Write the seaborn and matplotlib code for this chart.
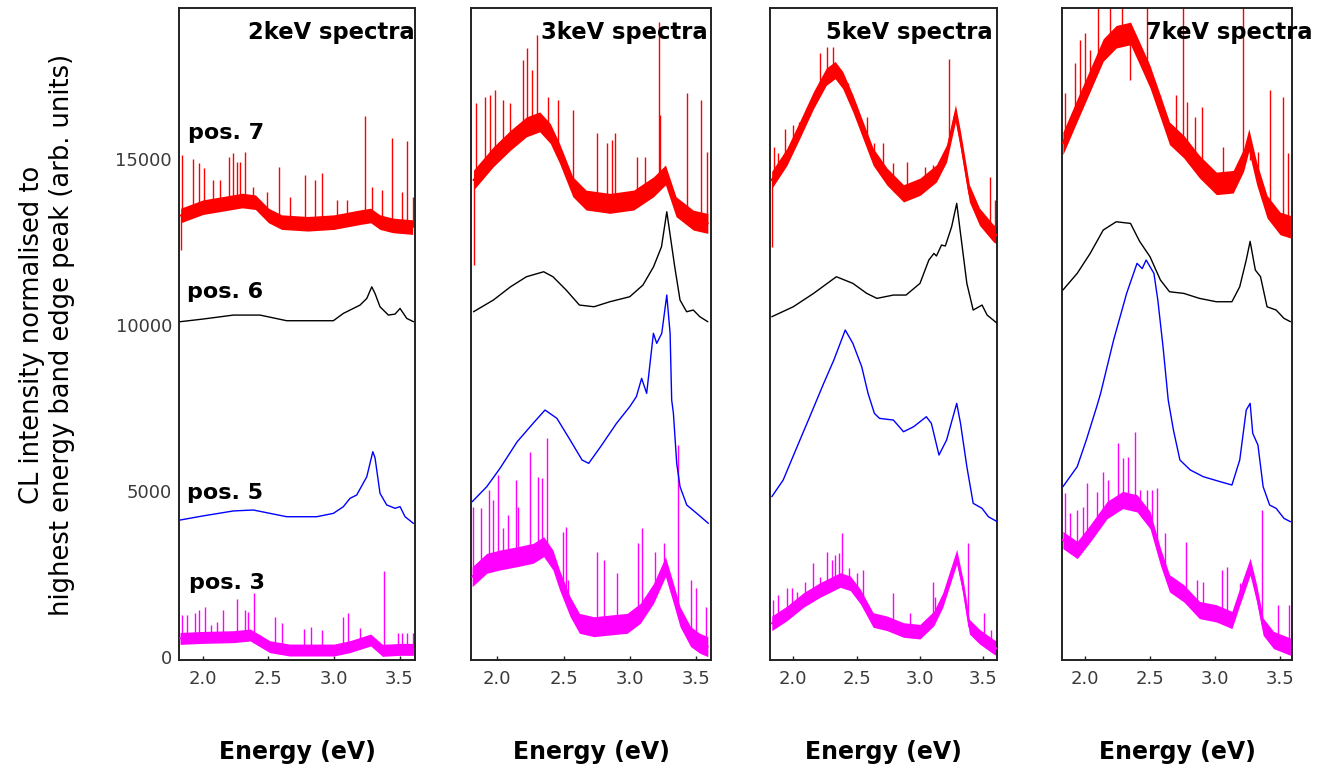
import numpy as np
import pandas as pd
import matplotlib
matplotlib.use("Agg")
import matplotlib.pyplot as plt
import seaborn as sns

# ---------------- data ----------------
panels = ["2keV spectra", "3keV spectra", "5keV spectra", "7keV spectra"]
positions = ["pos. 7", "pos. 6", "pos. 5", "pos. 3"]
x_ticks = [2.0, 2.5, 3.0, 3.5]
y_ticks = [0, 5000, 10000, 15000]

# ---- 2 keV ----
k2_p7_E = [1.83, 2.0, 2.3, 2.4, 2.5, 2.6, 2.8, 3.0, 3.2, 3.28, 3.35, 3.45, 3.6]
k2_p7_I = [13300, 13550, 13750, 13700, 13300, 13100, 13050, 13100, 13250, 13300, 13100, 13000, 12950]
k2_p7_spkE = [1.838, 1.921, 1.972, 2.008, 2.079, 2.13, 2.196, 2.232, 2.262, 2.283, 2.321, 2.384, 2.486, 2.583,
              2.664, 2.779, 2.855, 2.906, 3.02, 3.097, 3.237, 3.288, 3.364, 3.44, 3.517, 3.56, 3.6, 1.832]
k2_p7_spkI = [15120, 14990, 14870, 14720, 14370, 14370, 15070, 15170, 14920, 14920, 15220, 14165, 14015, 14770,
              13865, 14520, 14370, 14570, 13765, 13765, 16295, 14165, 14065, 15620, 14015, 15530, 13865, 12260]
k2_p6_E = [1.825, 2.0, 2.232, 2.435, 2.639, 2.995, 3.071, 3.198, 3.25, 3.288, 3.313, 3.351, 3.415, 3.466, 3.504, 3.555, 3.606]
k2_p6_I = [10100, 10180, 10300, 10300, 10130, 10130, 10350, 10600, 10800, 11150, 10950, 10550, 10300, 10330, 10500, 10200, 10100]
k2_p5_E = [1.825, 2.0, 2.232, 2.384, 2.639, 2.868, 2.995, 3.071, 3.122, 3.173, 3.25, 3.296, 3.313, 3.351, 3.402, 3.466, 3.504, 3.542, 3.606]
k2_p5_I = [4126, 4250, 4400, 4428, 4226, 4226, 4327, 4527, 4780, 4880, 5430, 6184, 6000, 4930, 4580, 4480, 4530, 4226, 4025]
k2_p3_E = [1.825, 2.0, 2.232, 2.36, 2.51, 2.66, 2.8, 3.0, 3.12, 3.28, 3.37, 3.5, 3.606]
k2_p3_I = [560, 590, 612, 663, 311, 210, 210, 210, 311, 512, 200, 230, 230]
k2_p3_spkE = [1.838, 1.876, 1.94, 1.973, 2.016, 2.059, 2.105, 2.151, 2.262, 2.321, 2.346, 2.389, 2.435, 2.552,
              2.601, 2.771, 2.822, 2.906, 3.071, 3.109, 3.198, 3.381, 3.49, 3.516, 3.555, 3.6]
k2_p3_spkI = [1265, 1265, 1315, 1416, 1516, 964, 1064, 1416, 1737, 1416, 1365, 1938, 663, 1195,
              1014, 834, 914, 813, 1195, 1315, 864, 2600, 713, 713, 713, 713]

# ---- 3 keV ----
k3_p7_E = [1.82, 1.97, 2.10, 2.22, 2.32, 2.40, 2.47, 2.57, 2.67, 2.85, 3.03, 3.18, 3.27, 3.35, 3.48, 3.59]
k3_p7_I = [14367, 15070, 15570, 15970, 16120, 15770, 15170, 14165, 13765, 13665, 13765, 14165, 14520, 13565, 13160, 13060]
k3_p7_spkE = [1.824, 1.839, 1.907, 1.945, 1.982, 2.045, 2.096, 2.191, 2.222, 2.259, 2.302, 2.385, 2.461, 2.574,
              2.751, 2.826, 2.864, 2.889, 3.053, 3.116, 3.222, 3.229, 3.431, 3.539, 3.587]
k3_p7_spkI = [11807, 16677, 16877, 16927, 17078, 16779, 16677, 17982, 18333, 17680, 18735, 16877, 16779, 16476,
              15774, 15473, 15573, 15774, 15070, 15070, 19136, 16325, 16978, 16779, 15220]
k3_p6_E = [1.82, 1.97, 2.10, 2.22, 2.35, 2.42, 2.52, 2.62, 2.73, 2.85, 3.00, 3.10, 3.18, 3.24, 3.28, 3.30, 3.34, 3.38, 3.43, 3.48, 3.53, 3.59]
k3_p6_I = [10400, 10753, 11153, 11455, 11605, 11455, 11054, 10602, 10551, 10702, 10852, 11205, 11756, 12358, 13412, 12861, 11756, 10753, 10400, 10452, 10250, 10099]
k3_p5_E = [1.81, 1.92, 2.02, 2.15, 2.27, 2.36, 2.45, 2.55, 2.64, 2.69, 2.78, 2.90, 3.00, 3.05, 3.09, 3.128, 3.179, 3.204,
           3.242, 3.28, 3.305, 3.317, 3.33, 3.355, 3.38, 3.431, 3.506, 3.594]
k3_p5_I = [4678, 5130, 5683, 6486, 7038, 7440, 7189, 6536, 5934, 5834, 6335, 7038, 7540, 7841, 8394, 7942, 9750, 9449,
           9750, 10903, 9750, 7741, 7340, 5834, 5130, 4578, 4328, 4027]
k3_p3_E = [1.81, 1.92, 2.02, 2.15, 2.27, 2.35, 2.42, 2.47, 2.55, 2.62, 2.73, 2.85, 2.98, 3.08, 3.18, 3.27, 3.33, 3.38, 3.46, 3.53, 3.59]
k3_p3_I = [2419, 2822, 2922, 3021, 3123, 3323, 2922, 2319, 1515, 1014, 913, 964, 1014, 1315, 1917, 2720, 1917, 1214, 612, 412, 311]
k3_p3_spkE = [1.819, 1.874, 1.94, 1.97, 2.003, 2.045, 2.083, 2.141, 2.159, 2.247, 2.31, 2.335, 2.378, 2.499,
              2.519, 2.537, 2.751, 2.806, 2.902, 3.06, 3.091, 3.191, 3.262, 3.368, 3.461, 3.499, 3.577]
k3_p3_spkI = [4528, 4478, 5030, 4729, 5482, 3876, 4277, 5331, 4528, 6185, 5431, 5381, 6587, 3775,
              3925, 2319, 3172, 2922, 2520, 3424, 3876, 3172, 3424, 6386, 2319, 2068, 1515]

# ---- 5 keV ----
k5_p7_E = [1.829, 1.95, 2.05, 2.16, 2.26, 2.33, 2.39, 2.47, 2.55, 2.63, 2.74, 2.87, 3.00, 3.13, 3.21, 3.28, 3.32, 3.39, 3.47, 3.58, 3.61]
k5_p7_I = [14367, 15070, 15873, 16779, 17480, 17680, 17379, 16677, 15873, 15070, 14467, 13967, 14165, 14569, 15170, 16376, 15573, 13967, 13262, 12762, 12700]
k5_p7_spkE = [1.829, 1.847, 1.882, 1.934, 2.0, 2.047, 2.171, 2.211, 2.263, 2.316, 2.434, 2.579, 2.637, 2.711,
              2.789, 2.895, 3.039, 3.105, 3.229, 3.553, 3.592]
k5_p7_spkI = [12358, 15370, 15170, 15914, 16024, 16124, 16978, 18183, 18383, 18383, 17280, 16274, 15473, 15473,
              14870, 14920, 14770, 14820, 18002, 14467, 13765]
k5_p6_E = [1.83, 2.0, 2.16, 2.34, 2.47, 2.58, 2.66, 2.79, 2.89, 3.0, 3.07, 3.11, 3.13, 3.17, 3.20, 3.25, 3.29, 3.32, 3.37, 3.42, 3.49, 3.53, 3.61]
k5_p6_I = [10250, 10551, 10953, 11455, 11255, 10953, 10803, 10903, 10903, 11255, 11958, 12158, 12080, 12409, 12380, 12961, 13665, 12761, 11255, 10451, 10602, 10301, 10050]
k5_p5_E = [1.83, 1.92, 2.03, 2.13, 2.24, 2.32, 2.41, 2.47, 2.54, 2.59, 2.64, 2.68, 2.79, 2.87, 2.95, 3.05, 3.09, 3.15, 3.21, 3.29, 3.32, 3.37, 3.42, 3.49, 3.54, 3.61]
k5_p5_I = [4829, 5331, 6335, 7238, 8244, 8946, 9849, 9449, 8744, 7942, 7340, 7189, 7138, 6786, 6937, 7238, 7038, 6084, 6536, 7641, 7038, 5733, 4629, 4478, 4226, 4076]
k5_p3_E = [1.83, 1.95, 2.08, 2.21, 2.37, 2.45, 2.53, 2.63, 2.74, 2.87, 3.0, 3.11, 3.18, 3.29, 3.34, 3.39, 3.47, 3.58, 3.61]
k5_p3_I = [1014, 1315, 1717, 2018, 2319, 2219, 1817, 1115, 1014, 813, 763, 1165, 1717, 3021, 2118, 913, 612, 311, 250]
k5_p3_spkE = [1.837, 1.882, 1.947, 1.987, 2.026, 2.092, 2.153, 2.211, 2.263, 2.303, 2.329, 2.358, 2.387, 2.442,
              2.5, 2.553, 2.789, 2.921, 3.105, 3.118, 3.376, 3.505, 3.561]
k5_p3_spkI = [1717, 1867, 2068, 2068, 1968, 2269, 2822, 2419, 3172, 2922, 3072, 3123, 3725, 2671,
              2520, 2620, 1917, 1315, 2269, 1817, 3424, 1315, 813]

# ---- 7 keV ----
k7_p7_E = [1.83, 1.94, 2.04, 2.14, 2.24, 2.35, 2.42, 2.50, 2.58, 2.65, 2.76, 2.88, 3.01, 3.14, 3.22, 3.26, 3.32, 3.40, 3.50, 3.58]
k7_p7_I = [15473, 16476, 17379, 18283, 18684, 18784, 18183, 17480, 16576, 15774, 15370, 14770, 14267, 14317, 14970, 15573, 14569, 13565, 13062, 12961]
k7_p7_spkE = [1.846, 1.923, 1.962, 2.0, 2.038, 2.103, 2.192, 2.282, 2.346, 2.474, 2.513, 2.577, 2.7, 2.756,
              2.782, 2.846, 2.897, 3.026, 3.064, 3.218, 3.269, 3.333, 3.423, 3.526, 3.564]
k7_p7_spkI = [16978, 17882, 18584, 18784, 18283, 20000, 20000, 20000, 17379, 20000, 17279, 16928, 16928, 20000,
              16726, 16274, 16576, 14569, 15372, 20000, 14970, 15220, 17078, 16877, 15170]
k7_p6_E = [1.83, 1.94, 2.04, 2.14, 2.24, 2.35, 2.42, 2.50, 2.58, 2.65, 2.76, 2.88, 3.01, 3.13, 3.19, 3.24, 3.27, 3.31, 3.35, 3.40, 3.47, 3.53, 3.58]
k7_p6_I = [11054, 11557, 12159, 12861, 13111, 13061, 12521, 12057, 11355, 11003, 10953, 10803, 10702, 10702, 11154, 11958, 12521, 11657, 11455, 10551, 10452, 10202, 10101]
k7_p5_E = [1.83, 1.94, 2.01, 2.09, 2.12, 2.22, 2.32, 2.40, 2.44, 2.47, 2.53, 2.56, 2.60, 2.64, 2.68, 2.73, 2.81, 2.91, 3.04,
           3.13, 3.19, 3.24, 3.27, 3.29, 3.33, 3.37, 3.42, 3.47, 3.53, 3.58]
k7_p5_I = [5130, 5733, 6536, 7540, 7942, 9549, 10953, 11858, 11700, 11958, 11557, 10753, 9346, 7741, 6837, 5934, 5633, 5431, 5281,
           5181, 5934, 7440, 7641, 6737, 6386, 5130, 4578, 4478, 4177, 4076]
k7_p3_E = [1.83, 1.94, 2.04, 2.17, 2.29, 2.40, 2.50, 2.58, 2.65, 2.76, 2.88, 3.01, 3.13, 3.19, 3.27, 3.32, 3.37, 3.45, 3.58]
k7_p3_I = [3524, 3223, 3725, 4428, 4729, 4629, 4126, 3021, 2219, 1917, 1416, 1315, 1115, 1817, 2720, 1917, 913, 512, 311]
k7_p3_spkE = [1.846, 1.885, 1.936, 1.987, 2.013, 2.09, 2.141, 2.179, 2.256, 2.295, 2.333, 2.385, 2.423, 2.474,
              2.513, 2.551, 2.615, 2.777, 2.859, 2.905, 3.051, 3.09, 3.192, 3.364, 3.487, 3.572]
k7_p3_spkI = [4930, 4328, 4428, 4528, 5231, 4980, 5582, 5331, 6436, 5984, 6035, 6786, 5030, 5030,
              5030, 5080, 3725, 3474, 2319, 2269, 2620, 2720, 2219, 4428, 1566, 1566]

# noise band half-width of each noisy spectrum
noise_k2 = [220, 180]
noise_k3 = [300, 300]
noise_k5 = [260, 220]
noise_k7 = [340, 260]

# ---------------- assemble ----------------
colors = {"pos. 7": "#ff0000", "pos. 6": "#000000", "pos. 5": "#0000ff", "pos. 3": "#ff00ff"}
curves = [
    [(k2_p7_E, k2_p7_I), (k2_p6_E, k2_p6_I), (k2_p5_E, k2_p5_I), (k2_p3_E, k2_p3_I)],
    [(k3_p7_E, k3_p7_I), (k3_p6_E, k3_p6_I), (k3_p5_E, k3_p5_I), (k3_p3_E, k3_p3_I)],
    [(k5_p7_E, k5_p7_I), (k5_p6_E, k5_p6_I), (k5_p5_E, k5_p5_I), (k5_p3_E, k5_p3_I)],
    [(k7_p7_E, k7_p7_I), (k7_p6_E, k7_p6_I), (k7_p5_E, k7_p5_I), (k7_p3_E, k7_p3_I)],
]
spikes = [
    [(k2_p7_spkE, k2_p7_spkI), (k2_p3_spkE, k2_p3_spkI)],
    [(k3_p7_spkE, k3_p7_spkI), (k3_p3_spkE, k3_p3_spkI)],
    [(k5_p7_spkE, k5_p7_spkI), (k5_p3_spkE, k5_p3_spkI)],
    [(k7_p7_spkE, k7_p7_spkI), (k7_p3_spkE, k7_p3_spkI)],
]
noises = [noise_k2, noise_k3, noise_k5, noise_k7]

sns.set_theme(style="white")
plt.rcParams["font.family"] = ["DejaVu Sans"]
plt.rcParams["text.color"] = "black"

W, H = 1328, 769
fig = plt.figure(figsize=(W / 100, H / 100), dpi=100)
px_lr = [(179, 415), (471, 711), (770, 997), (1062, 1292)]
top_px, bot_px = 8, 660
xlims = [(1.817, 3.618), (1.801, 3.614), (1.816, 3.608), (1.823, 3.592)]
title_x = [2.344, 2.332, 2.258, 2.469]
ylim = (-90, 19550)

for k, (l, r) in enumerate(px_lr):
    ax = fig.add_axes([l / W, 1 - bot_px / H, (r - l) / W, (bot_px - top_px) / H])
    rows = []
    for pos, (E, I) in zip(positions, curves[k]):
        rows.append(pd.DataFrame({"energy": E, "intensity": I, "position": pos}))
    df = pd.concat(rows, ignore_index=True)
    smooth = df[df["position"].isin(["pos. 6", "pos. 5"])]
    noisy = df[df["position"].isin(["pos. 7", "pos. 3"])]

    # noisy spectra: band + spikes + centre trace
    for j, pos in enumerate(["pos. 7", "pos. 3"]):
        E, I = curves[k][0 if pos == "pos. 7" else 3]
        E = np.asarray(E, float)
        I = np.asarray(I, float)
        hw = noises[k][j]
        ax.fill_between(E, I - hw, I + hw, color=colors[pos], lw=0, zorder=2)
        sE, sI = spikes[k][j]
        base = np.interp(sE, E, I)
        ax.vlines(sE, base, sI, color=colors[pos], lw=1.0, zorder=2)
    sns.lineplot(data=noisy, x="energy", y="intensity", hue="position", palette=colors,
                 estimator=None, sort=False, linewidth=1.5, legend=False, ax=ax, zorder=3)
    sns.lineplot(data=smooth, x="energy", y="intensity", hue="position", palette=colors,
                 estimator=None, sort=False, linewidth=1.0, legend=False, ax=ax, zorder=4)

    ax.set_xlim(*xlims[k])
    ax.set_ylim(*ylim)
    ax.set_xticks(x_ticks)
    ax.set_xticklabels([f"{t:.1f}" for t in x_ticks])
    ax.tick_params(axis="x", direction="in", length=3, width=1, labelsize=13,
                   labelcolor="#3a3a3a", color="#222222", pad=7, bottom=True)
    if k == 0:
        ax.set_yticks(y_ticks)
        ax.set_yticklabels([str(t) for t in y_ticks])
        ax.tick_params(axis="y", length=0, labelsize=13, labelcolor="#3a3a3a", pad=5)
        for pos, (tx, ty) in zip(positions, [(1.886, 15783), (1.880, 10994), (1.880, 4940), (1.895, 2229)]):
            ax.text(tx, ty, pos, fontsize=16, fontweight="bold", ha="left", va="center", color="black")
    else:
        ax.set_yticks([])
    ax.set_xlabel("")
    ax.set_ylabel("")
    for sp in ax.spines.values():
        sp.set_visible(True)
        sp.set_color("#222222")
        sp.set_linewidth(1.4)
    ax.text(title_x[k], 18825, panels[k], fontsize=16.3, fontweight="bold", ha="left",
            va="center", color="black", clip_on=False, zorder=6)
    fig.text((l + r) / 2 / W, 1 - 752 / H, "Energy (eV)", fontsize=17, fontweight="bold",
             ha="center", va="center", color="black")

fig.text(47 / W, 1 - 335 / H, "CL intensity normalised to\nhighest energy band edge peak (arb. units)",
         rotation=90, ha="center", va="center", fontsize=18.5, multialignment="center", color="black")

fig.savefig("out.png", dpi=100)
